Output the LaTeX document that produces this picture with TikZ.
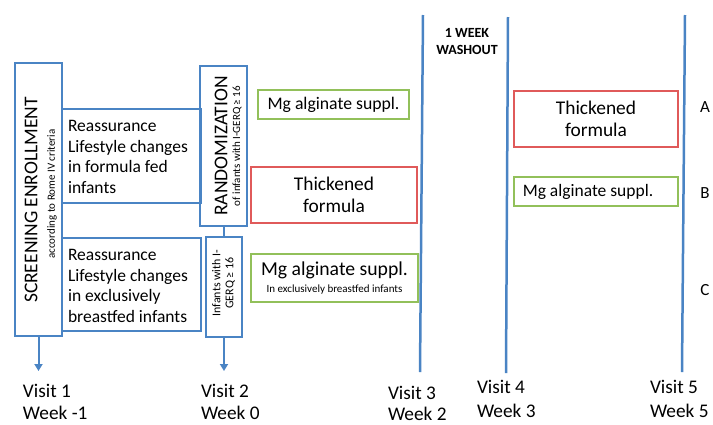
\documentclass[tikz,border=0pt]{standalone}
\usepackage{fontspec}
\setmainfont{Carlito}
\usetikzlibrary{arrows.meta}
\definecolor{cblue}{HTML}{4A84C4}
\definecolor{cred}{HTML}{E05A5A}
\definecolor{cgreen}{HTML}{92C05A}
\newcommand{\fsz}[2]{\fontsize{#1}{#2}\selectfont}
\begin{document}
\begin{tikzpicture}[x=1pt,y=-1pt,
  bluebox/.style={draw=cblue,line width=2pt,inner sep=0pt,outer sep=0pt,anchor=north west},
  redbox/.style={draw=cred,line width=2pt,inner sep=0pt,outer sep=0pt,anchor=north west},
  greenbox/.style={draw=cgreen,line width=2pt,inner sep=0pt,outer sep=0pt,anchor=north west},
  txt/.style={inner sep=0pt,outer sep=0pt,text=black},
  conn/.style={cblue,line width=2pt},
  arr/.style={cblue,line width=2pt,-{Triangle[width=8pt,length=7pt]}},
  visitline/.style={cblue,line width=2.5pt},
  visit/.style={txt,anchor=base west,font=\fsz{19.3}{22}},
  bigtxt/.style={font=\fsz{19.5}{22}},
  smalltxt/.style={font=\fsz{11}{13}},
]
\useasboundingbox (0,0) rectangle (713,424);
\fill[white] (0,0) rectangle (713,424);

% left structure
\node[bluebox,minimum width=47pt,minimum height=273pt] (scr) at (15,63) {};
\node[txt,rotate=90,bigtxt] (scrT) at (31,200) {SCREENING ENROLLMENT};
\node[txt,rotate=90,smalltxt] (scrS) at (52,194) {according to Rome IV criteria};

\node[bluebox,minimum width=139pt,minimum height=94pt] (ff) at (62,109) {};
\node[txt,anchor=west,align=left,font=\fsz{17.5}{20.7}] (ffT) at (68,157)
  {Reassurance\\Lifestyle changes\\in formula fed\\infants};

\node[bluebox,minimum width=139pt,minimum height=93pt] (bf) at (62,238) {};
\node[txt,anchor=west,align=left,font=\fsz{17.5}{20.7}] (bfT) at (68,286)
  {Reassurance\\Lifestyle changes\\in exclusively\\breastfed infants};

\node[bluebox,minimum width=47pt,minimum height=160pt] (rnd) at (200,66) {};
\node[txt,rotate=90,bigtxt] (rndT) at (221,146) {RANDOMIZATION};
\node[txt,rotate=90,smalltxt] (rndS) at (237,146) {of infants with I-GERQ ≥ 16};

\node[bluebox,minimum width=36pt,minimum height=100pt] (inf) at (206,237) {};
\node[txt,rotate=90,align=center,font=\fsz{11.9}{13}] (infT) at (223.5,283)
  {Infants with I-\\GERQ ≥ 16};

\draw[conn] (rnd.south) -- (rnd.south |- inf.north);
\coordinate (v1end) at (38.5,371);
\coordinate (v2end) at (224,371);
\draw[arr] (scr.south) -- (v1end);
\draw[arr] (inf.south) -- (v2end);

% treatment boxes period 1
\node[greenbox,minimum width=151pt,minimum height=29pt,font=\fsz{17.7}{21}] (g1) at (258,90) {Mg alginate suppl.};
\node[redbox,minimum width=166pt,minimum height=56pt,align=center,font=\fsz{19.4}{22}] (r1) at (251,167) {Thickened\\formula};
\node[greenbox,minimum width=167pt,minimum height=48pt,align=center,font=\fsz{19.7}{17}] (g2) at (251,254)
  {Mg alginate suppl.\\{\fsz{11}{17}In exclusively breastfed infants}};

% visit lines
\coordinate (l3top) at (423,15);
\coordinate (l3bot) at (420,372);
\coordinate (l4top) at (508,17);
\coordinate (l4bot) at (506,373);
\coordinate (l5top) at (685,15);
\coordinate (l5bot) at (682,372);
\draw[visitline] (l3top) -- (l3bot);
\draw[visitline] (l4top) -- (l4bot);
\draw[visitline] (l5top) -- (l5bot);

\node[txt,align=center,font=\bfseries\fsz{14}{17}] (wash) at (467,41.5) {1 WEEK\\WASHOUT};

% period 2
\node[redbox,minimum width=164pt,minimum height=56pt,align=center,font=\fsz{19.4}{22}] (r2) at (514,91) {Thickened\\formula};
\node[greenbox,minimum width=164pt,minimum height=29pt] (g3) at (514,177) {};
\node[txt,font=\fsz{17.5}{21}] (g3T) at (588,191.5) {Mg alginate suppl.};

\node[txt,font=\fsz{17}{20}] (lA) at (705,107) {A};
\node[txt,font=\fsz{17}{20}] (lB) at (705,193) {B};
\node[txt,font=\fsz{17}{20}] (lC) at (705,290) {C};

% visits
\node[visit] (v1a) at (23,397) {Visit 1};
\node[visit] (v1b) at (23,419) {Week -1};
\node[visit] (v2a) at (201,397) {Visit 2};
\node[visit] (v2b) at (201,419) {Week 0};
\node[visit] (v3a) at (388,399) {Visit 3};
\node[visit] (v3b) at (388,420.5) {Week 2};
\node[visit] (v4a) at (477,393) {Visit 4};
\node[visit] (v4b) at (477,417) {Week 3};
\node[visit] (v5a) at (650,393) {Visit 5};
\node[visit] (v5b) at (650,417) {Week 5};
\end{tikzpicture}
\end{document}
